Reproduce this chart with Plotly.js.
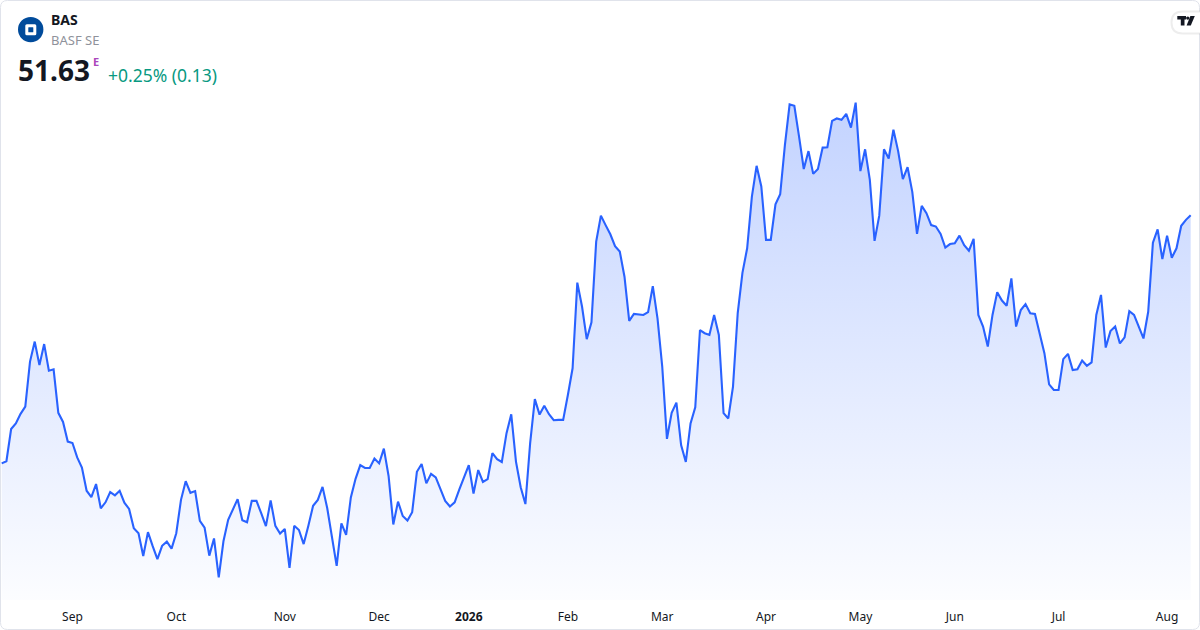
<!DOCTYPE html>
<html>
<head>
<meta charset="utf-8">
<script src="https://cdn.plot.ly/plotly-3.0.1.min.js"></script>
<style>
  html, body { margin: 0; padding: 0; background: #ffffff; }
  #chart { width: 1200px; height: 630px; }
</style>
</head>
<body>
<div id="chart"></div>
<script>
// ---- data (daily closes, BASF SE, Aug 2025 – Aug 2026) ----
const symbol = 'BAS';
const companyName = 'BASF SE';
const lastPriceText = '51.63';
const changeText = '+0.25% (0.13)';

const tickIndex = [15, 37, 60, 80, 99, 120, 140, 162, 182, 202, 224, 247];
const tickLabels = ['Sep', 'Oct', 'Nov', 'Dec', '<b>2026</b>', 'Feb', 'Mar', 'Apr', 'May', 'Jun', 'Jul', 'Aug'];

const closePrices = [
  44.56, 44.62, 45.54, 45.70, 45.97, 46.18, 47.46, 48.03, 47.36, 47.96,
  47.20, 47.24, 46.00, 45.74, 45.18, 45.14, 44.73, 44.44, 43.78, 43.60,
  43.97, 43.28, 43.45, 43.74, 43.65, 43.78, 43.44, 43.26, 42.71, 42.57,
  41.92, 42.60, 42.20, 41.83, 42.21, 42.33, 42.13, 42.57, 43.52, 44.05,
  43.72, 43.77, 42.92, 42.73, 41.93, 42.42, 41.31, 42.34, 42.95, 43.25,
  43.54, 42.94, 42.88, 43.49, 43.49, 43.14, 42.77, 43.50, 42.78, 42.56,
  42.69, 41.58, 42.78, 42.66,
  42.26, 42.78, 43.35, 43.52, 43.89, 43.28, 42.40, 41.64, 42.85, 42.52,
  43.59, 44.12, 44.51, 44.43, 44.43, 44.70, 44.56, 44.98, 44.20, 42.82,
  43.47, 43.06, 42.93, 43.17, 44.32, 44.54, 43.99, 44.26, 44.16, 43.80,
  43.49, 43.33, 43.45, 43.82, 44.18, 44.51, 43.70, 44.37, 44.03, 44.11,
  44.85, 44.68, 44.60, 45.42, 45.96, 44.61,
  43.88, 43.40, 45.13, 46.39, 45.95, 46.20, 45.96, 45.79, 45.80, 45.80,
  46.51, 47.27, 49.71, 49.03, 48.10, 48.58, 50.88, 51.62, 51.35, 51.09,
  50.75, 50.60, 49.88, 48.62, 48.82, 48.80, 48.79, 48.87, 49.61, 48.69,
  47.32, 45.26, 46.00, 46.29, 45.08, 44.60, 45.70, 46.16, 48.36, 48.27,
  48.22, 48.79, 48.22, 45.99, 45.84, 46.75,
  48.84, 49.99, 50.69, 52.16, 53.04, 52.45, 50.93, 50.93, 51.94, 52.23,
  53.63, 54.79, 54.75, 53.87, 52.95, 53.46, 52.81, 52.95, 53.56, 53.57,
  54.32, 54.39, 54.35, 54.52, 54.13, 54.84, 52.89, 53.51, 52.64, 50.90,
  51.62, 53.51, 53.25, 54.07, 53.46, 52.66, 53.00, 52.30, 51.10, 51.90,
  51.69, 51.35, 51.31, 51.10, 50.71, 50.81, 50.83, 51.05,
  50.78, 50.62, 50.96, 48.79, 48.46, 47.89, 48.79, 49.44, 49.20, 49.05,
  49.83, 48.46, 48.93, 49.10, 48.84, 48.82, 48.27, 47.70, 46.81, 46.65,
  46.65, 47.53, 47.68, 47.22, 47.24, 47.49, 47.34, 47.44, 48.79, 49.36,
  47.86, 48.33, 48.46, 47.98, 48.15, 48.90, 48.79, 48.48, 48.12, 48.88,
  50.85, 51.23, 50.38, 51.05, 50.42, 50.69, 51.33, 51.50, 51.63
];

// ---- layout helpers ----
const W = 1200, H = 630, PLOT_H = 600;
const yMin = 40.666, yMax = 57.766;
const px = x => (x / W).toFixed(5);
const py = y => (1 - y / PLOT_H).toFixed(5);
const FONT = '"Noto Sans", "Open Sans", sans-serif';

const dayIndex = closePrices.map((_, i) => i);
const topValue = Math.max(...closePrices);

const trace = {
  type: 'scatter',
  mode: 'lines',
  x: dayIndex,
  y: closePrices,
  line: { color: '#2962FF', width: 2.1, shape: 'linear' },
  fill: 'tozeroy',
  fillgradient: {
    type: 'vertical',
    start: yMin,
    stop: topValue,
    colorscale: [[0, 'rgba(41,98,255,0.015)'], [1, 'rgba(41,98,255,0.28)']]
  },
  hoverinfo: 'skip'
};

function rectPath(x0, y0, x1, y1, r) {
  return `M ${px(x0 + r)} ${py(y0)} L ${px(x1 - r)} ${py(y0)} Q ${px(x1)} ${py(y0)} ${px(x1)} ${py(y0 + r)} ` +
         `L ${px(x1)} ${py(y1 - r)} Q ${px(x1)} ${py(y1)} ${px(x1 - r)} ${py(y1)} ` +
         `L ${px(x0 + r)} ${py(y1)} Q ${px(x0)} ${py(y1)} ${px(x0)} ${py(y1 - r)} ` +
         `L ${px(x0)} ${py(y0 + r)} Q ${px(x0)} ${py(y0)} ${px(x0 + r)} ${py(y0)} Z`;
}

const shapes = [
  // card border
  { type: 'path', xref: 'paper', yref: 'paper', path: rectPath(0.5, 0.5, 1199.5, 629.5, 7),
    line: { color: '#e0e3eb', width: 1 }, fillcolor: 'rgba(0,0,0,0)', layer: 'above' },
  // logo circle
  { type: 'circle', xref: 'paper', yref: 'paper', x0: px(18), x1: px(43.4), y0: py(42.3), y1: py(16.9),
    line: { width: 0 }, fillcolor: '#004b9b', layer: 'above' },
  { type: 'path', xref: 'paper', yref: 'paper', path: rectPath(25.3, 24.3, 36.3, 35.3, 1.5),
    line: { width: 0 }, fillcolor: '#ffffff', layer: 'above' },
  { type: 'path', xref: 'paper', yref: 'paper', path: rectPath(28.3, 27.3, 33.3, 32.3, 0.5),
    line: { width: 0 }, fillcolor: '#004b9b', layer: 'above' },
  // TradingView badge
  { type: 'path', xref: 'paper', yref: 'paper', path: rectPath(1171.5, 11.5, 1210, 33.5, 11),
    line: { color: 'rgba(0,0,0,0.07)', width: 2 }, fillcolor: '#ffffff', layer: 'above' },
  { type: 'path', xref: 'paper', yref: 'paper',
    path: `M ${px(1177.3)} ${py(16)} L ${px(1186)} ${py(16)} L ${px(1186)} ${py(19.6)} L ${px(1184.5)} ${py(19.6)} ` +
          `L ${px(1184.5)} ${py(25.4)} L ${px(1180.8)} ${py(25.4)} L ${px(1180.8)} ${py(19.6)} L ${px(1177.3)} ${py(19.6)} Z`,
    line: { width: 0 }, fillcolor: '#131722', layer: 'above' },
  { type: 'circle', xref: 'paper', yref: 'paper', x0: px(1186.1), x1: px(1189.5), y0: py(19.8), y1: py(16.4),
    line: { width: 0 }, fillcolor: '#131722', layer: 'above' },
  { type: 'path', xref: 'paper', yref: 'paper',
    path: `M ${px(1190.4)} ${py(16)} L ${px(1194.8)} ${py(16)} L ${px(1190.8)} ${py(25.4)} L ${px(1186.6)} ${py(25.4)} Z`,
    line: { width: 0 }, fillcolor: '#131722', layer: 'above' }
];

const ann = (text, x, y, size, color, bold) => ({
  text: bold ? `<b>${text}</b>` : text,
  x: px(x), y: py(y), xref: 'paper', yref: 'paper',
  xanchor: 'left', yanchor: 'middle', showarrow: false,
  font: { family: FONT, size: size, color: color }
});

const annotations = [
  ann(symbol, 49, 20, 14, '#131722', true),
  ann(companyName, 49, 40, 13, '#8f929b', false),
  ann(lastPriceText, 16, 70, 28, '#131722', true),
  ann('E', 91, 61, 11, '#ab47bc', true),
  ann(changeText, 106, 74.5, 17.5, '#089981', false)
];

const layout = {
  width: W, height: H,
  margin: { l: 0, r: 0, t: 0, b: 30, pad: 0 },
  paper_bgcolor: '#ffffff',
  plot_bgcolor: '#ffffff',
  showlegend: false,
  xaxis: {
    range: [-0.36, 253.98],
    tickmode: 'array',
    tickvals: tickIndex,
    ticktext: tickLabels,
    ticks: '',
    ticklabelstandoff: 8,
    showgrid: false, zeroline: false, showline: false,
    tickfont: { family: FONT, size: 12, color: '#131722' },
    fixedrange: true
  },
  yaxis: {
    range: [yMin, yMax],
    visible: false,
    showgrid: false, zeroline: false,
    fixedrange: true
  },
  shapes: shapes,
  annotations: annotations,
  hovermode: false
};

Plotly.newPlot('chart', [trace], layout, { displayModeBar: false, staticPlot: true });
</script>
</body>
</html>
